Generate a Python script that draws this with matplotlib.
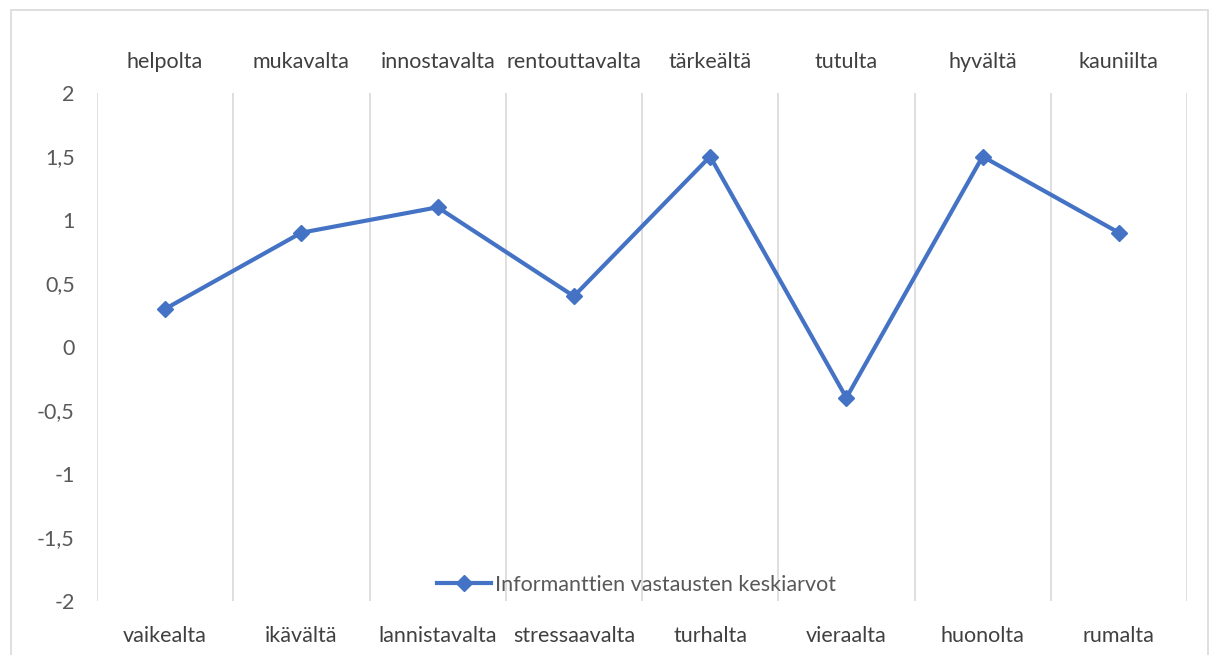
import matplotlib.pyplot as plt
from matplotlib.patches import Rectangle
from matplotlib.ticker import FuncFormatter, FixedLocator

plt.rcParams['font.family'] = ['Lato', 'DejaVu Sans']

top_labels = ["helpolta", "mukavalta", "innostavalta", "rentouttavalta",
              "tärkeältä", "tutulta", "hyvältä", "kauniilta"]
bottom_labels = ["vaikealta", "ikävältä", "lannistavalta", "stressaavalta",
                 "turhalta", "vieraalta", "huonolta", "rumalta"]
values = [0.3, 0.9, 1.1, 0.4, 1.5, -0.4, 1.5, 0.9]
series_name = "Informanttien vastausten keskiarvot"

W, H = 1216, 655
fs = 15.5
fig = plt.figure(figsize=(W / 100, H / 100), dpi=100)
fig.patches.append(Rectangle((11 / W, -0.01), 1197 / W, (H - 10) / H + 0.01,
                             transform=fig.transFigure, fill=False,
                             edgecolor="#D9D9D9", linewidth=1.2))

ax = fig.add_axes([97 / W, (H - 601) / H, 1090 / W, 508 / H])
x = list(range(len(values)))
ax.plot(x, values, color="#4472C4", linewidth=3, marker="D",
        markersize=8, label=series_name, zorder=3)

ax.set_xlim(-0.5, len(values) - 0.5)
ax.set_ylim(-2, 2)
ax.set_yticks([-2, -1.5, -1, -0.5, 0, 0.5, 1, 1.5, 2])
ax.yaxis.set_major_formatter(FuncFormatter(
    lambda v, p: ("%g" % v).replace(".", ",")))
ax.tick_params(axis="y", length=0, pad=16, labelsize=fs, labelcolor="#595959")

ax.set_xticks(x)
ax.set_xticklabels(bottom_labels)
ax.tick_params(axis="x", length=0, pad=18, labelsize=fs, labelcolor="#404040")
ax.xaxis.set_minor_locator(FixedLocator([i - 0.5 for i in range(len(values) + 1)]))
ax.grid(True, which="minor", axis="x", color="#D9D9D9", linewidth=1.2)
ax.tick_params(axis="x", which="minor", length=0)

top = ax.twiny()
top.set_xlim(ax.get_xlim())
top.set_xticks(x)
top.set_xticklabels(top_labels)
top.tick_params(axis="x", length=0, pad=15, labelsize=fs, labelcolor="#404040")

for a in (ax, top):
    for s in a.spines.values():
        s.set_visible(False)

leg = ax.legend(loc="center", bbox_to_anchor=(0.495, 16 / 508),
                frameon=False, fontsize=fs, handlelength=2.5, handletextpad=0.2,
                borderaxespad=0)
for t in leg.get_texts():
    t.set_color("#595959")

fig.savefig("out.png", dpi=100)
